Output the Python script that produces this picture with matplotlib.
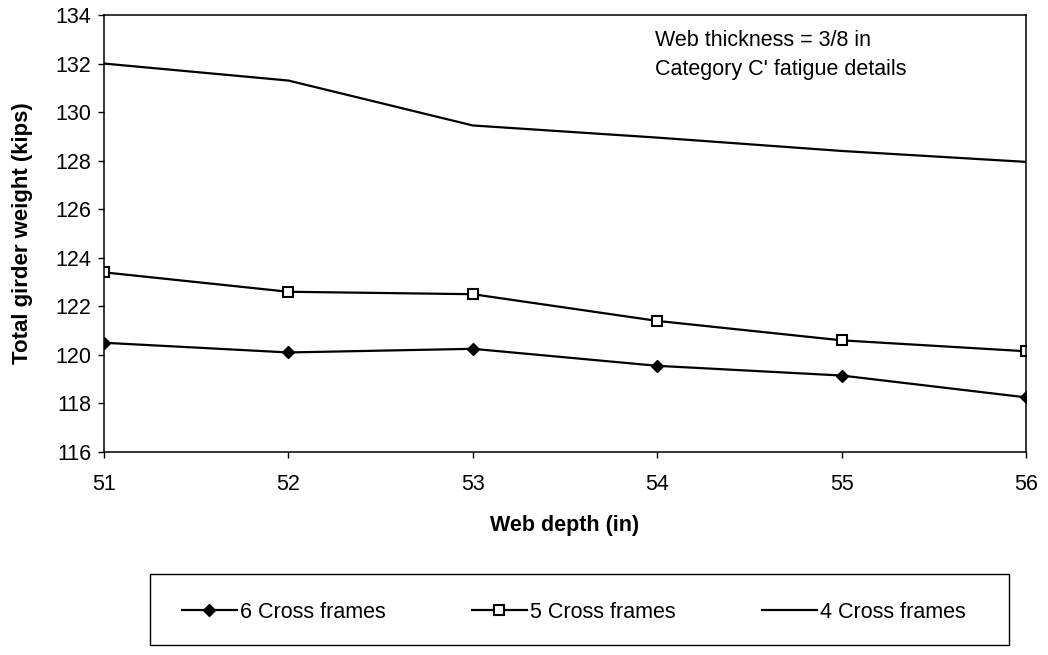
import matplotlib
matplotlib.use("Agg")
import matplotlib.pyplot as plt
from matplotlib.patches import Rectangle

# Data
web_depth = [51, 52, 53, 54, 55, 56]
cf6 = [120.5, 120.1, 120.25, 119.55, 119.15, 118.25]
cf5 = [123.4, 122.6, 122.5, 121.4, 120.6, 120.15]
cf4 = [132.0, 131.3, 129.45, 128.95, 128.4, 127.95]
series_labels = ["6 Cross frames", "5 Cross frames", "4 Cross frames"]
y_ticks = list(range(116, 135, 2))

plt.rcParams['font.family'] = ['Liberation Sans', 'DejaVu Sans']

W, H = 1048, 655
fig = plt.figure(figsize=(W / 100, H / 100), dpi=100)
ax = fig.add_axes([104 / W, 1 - 452 / H, (1026 - 104) / W, (452 - 15) / H])

ax.plot(web_depth, cf6, color='black', lw=1.6, marker='D', markersize=6,
        markerfacecolor='black', markeredgecolor='black', label=series_labels[0])
ax.plot(web_depth, cf5, color='black', lw=1.6, marker='s', markersize=7,
        markerfacecolor='white', markeredgecolor='black', markeredgewidth=1.5,
        label=series_labels[1])
ax.plot(web_depth, cf4, color='black', lw=1.6, label=series_labels[2])

ax.set_xlim(51, 56)
ax.set_ylim(116, 134)
ax.set_yticks(y_ticks)
ax.set_xticks(web_depth)
ax.tick_params(direction='out', length=4, width=1, labelsize=15.5, colors='black')
ax.tick_params(axis='x', pad=12)
ax.tick_params(axis='y', pad=5)
for s in ax.spines.values():
    s.set_linewidth(1.1)
    s.set_color('black')

ax.set_xlabel("Web depth (in)", fontsize=15.5, fontweight='bold', labelpad=14)
ax.set_ylabel("Total girder weight (kips)", fontsize=16, fontweight='bold', labelpad=16)

fig.text(655 / W, 1 - 40 / H, "Web thickness = 3/8 in", fontsize=15.5, va='center', ha='left')
fig.text(655 / W, 1 - 70 / H, "Category C' fatigue details", fontsize=15.5, va='center', ha='left')

# Legend box
fig.patches.append(Rectangle((150 / W, 1 - 645 / H), (1009 - 150) / W, (645 - 574) / H,
                             transform=fig.transFigure, fill=False,
                             edgecolor='black', lw=1.0))
handles, labels = ax.get_legend_handles_labels()
xs = [182, 472, 762]
for h, lab, x0 in zip(handles, labels, xs):
    fig.legend([h], [lab], loc='center left', bbox_to_anchor=(x0 / W, 1 - 612 / H),
               frameon=False, fontsize=15.5, handlelength=2.55, handletextpad=0.15,
               borderaxespad=0, borderpad=0)

fig.savefig("out.png", dpi=100)
